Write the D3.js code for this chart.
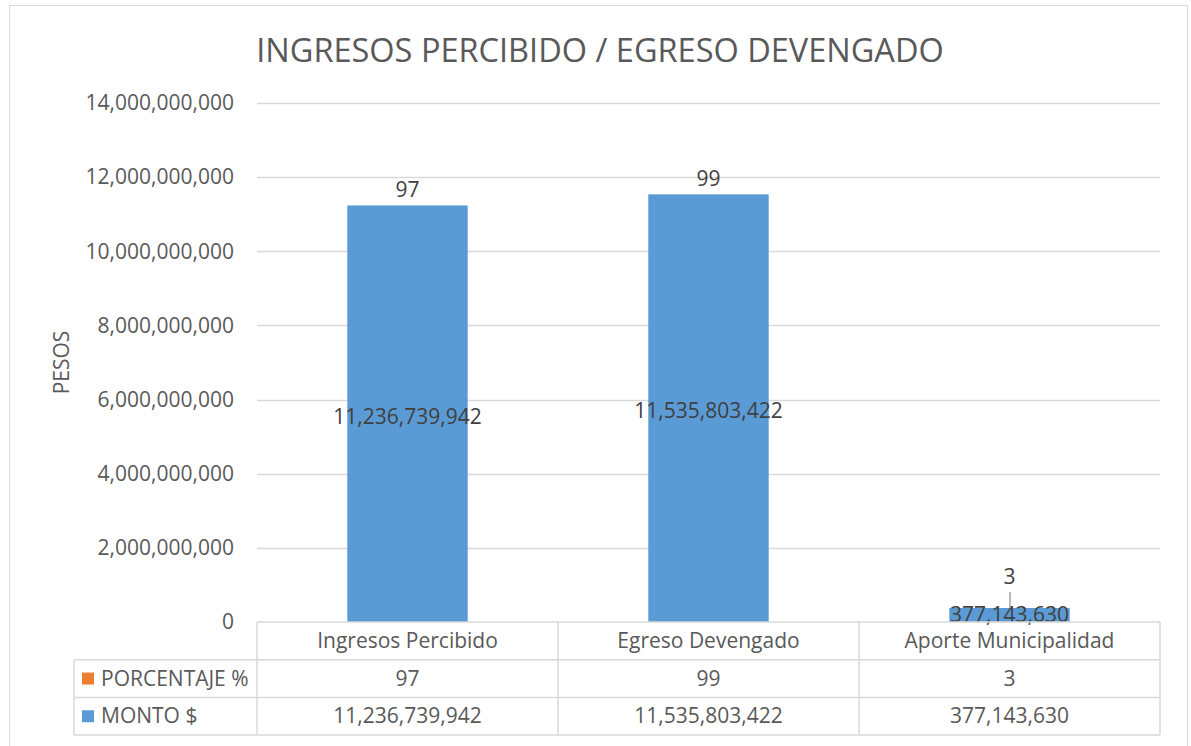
<!DOCTYPE html>
<html>
<head>
<meta charset="utf-8">
<script src="https://cdn.jsdelivr.net/npm/d3@7/dist/d3.min.js"></script>
<style>
  body { margin: 0; background: #fff; }
  text { font-family: "Open Sans", "Liberation Sans", sans-serif; }
</style>
</head>
<body>
<div id="chart"></div>
<script>
// Data
const categories = ["Ingresos Percibido", "Egreso Devengado", "Aporte Municipalidad"];
const montoValues = [11236739942, 11535803422, 377143630];
const porcentajeValues = [97, 99, 3];
const yTicks = [0, 2000000000, 4000000000, 6000000000, 8000000000, 10000000000, 12000000000, 14000000000];
const seriesNames = ["PORCENTAJE %", "MONTO $"];

const width = 1191, height = 746;
const blue = "#5B9BD5", orange = "#ED7D31";
const textColor = "#595959", labelColor = "#404040", gridColor = "#D9D9D9";
const fs = "21px";

const plot = { left: 257, right: 1160, top: 103, bottom: 622 };
const rowH = 37.7;
const tableLeft = 74;

const svg = d3.select("#chart").append("svg")
  .attr("width", width)
  .attr("height", height);

// Outer chart border
svg.append("rect")
  .attr("x", 9.5).attr("y", 5.5)
  .attr("width", 1178).attr("height", 760)
  .attr("fill", "none").attr("stroke", gridColor).attr("stroke-width", 1);

// Scales
const x = d3.scaleBand()
  .domain(categories)
  .range([plot.left, plot.right])
  .paddingInner(0.6)
  .paddingOuter(0.3);

const y = d3.scaleLinear()
  .domain([0, 14000000000])
  .range([plot.bottom, plot.top]);

const fmt = d3.format(",");

// Title
svg.append("text")
  .attr("x", 600).attr("y", 62)
  .attr("text-anchor", "middle")
  .attr("fill", textColor)
  .style("font-size", "32.5px")
  .text("INGRESOS PERCIBIDO / EGRESO DEVENGADO");

// Gridlines
svg.append("g")
  .selectAll("line")
  .data(yTicks.filter(d => d > 0))
  .join("line")
  .attr("x1", plot.left).attr("x2", plot.right)
  .attr("y1", d => Math.round(y(d)) + 0.5).attr("y2", d => Math.round(y(d)) + 0.5)
  .attr("stroke", gridColor).attr("stroke-width", 1.3);

// Y axis
const yAxis = svg.append("g")
  .attr("transform", `translate(${plot.left},0)`)
  .call(d3.axisLeft(y).tickValues(yTicks).tickFormat(fmt).tickSize(0).tickPadding(23));
yAxis.select(".domain").remove();
yAxis.selectAll("text")
  .attr("fill", textColor)
  .style("font-size", fs)
  .style("font-family", "'Open Sans', sans-serif");

// Y axis title
svg.append("text")
  .attr("transform", `translate(69,${(plot.top + plot.bottom) / 2}) rotate(-90)`)
  .attr("text-anchor", "middle")
  .attr("fill", textColor)
  .style("font-size", fs)
  .text("PESOS");

// Stacked bars: MONTO $ at the bottom, PORCENTAJE % on top
const barData = categories.map((c, i) => ({ cat: c, monto: montoValues[i], pct: porcentajeValues[i] }));

svg.append("g")
  .selectAll("rect")
  .data(barData)
  .join("rect")
  .attr("x", d => x(d.cat))
  .attr("width", x.bandwidth())
  .attr("y", d => y(d.monto))
  .attr("height", d => y(0) - y(d.monto))
  .attr("fill", blue);

svg.append("g")
  .selectAll("rect")
  .data(barData)
  .join("rect")
  .attr("x", d => x(d.cat))
  .attr("width", x.bandwidth())
  .attr("y", d => y(d.monto + d.pct))
  .attr("height", d => y(d.monto) - y(d.monto + d.pct))
  .attr("fill", orange);

// MONTO labels (centered in bar)
svg.append("g")
  .selectAll("text")
  .data(barData)
  .join("text")
  .attr("x", d => x(d.cat) + x.bandwidth() / 2)
  .attr("y", d => {
    const mid = (y(d.monto) + y(0)) / 2;
    return mid + 8 - ((y(0) - y(d.monto)) < 30 ? 1 : -2);
  })
  .attr("text-anchor", "middle")
  .attr("fill", labelColor)
  .style("font-size", fs)
  .text(d => fmt(d.monto));

// PORCENTAJE labels (above the stack; short bars get a leader line)
const pctG = svg.append("g");
barData.forEach(d => {
  const cx = x(d.cat) + x.bandwidth() / 2;
  const top = y(d.monto + d.pct);
  const shortBar = (y(0) - y(d.monto)) < 30;
  const ly = shortBar ? top - 24 : top - 8;
  pctG.append("text")
    .attr("x", cx).attr("y", ly)
    .attr("text-anchor", "middle")
    .attr("fill", labelColor)
    .style("font-size", fs)
    .text(d.pct);
  if (shortBar) {
    pctG.append("line")
      .attr("x1", cx + 0.5).attr("x2", cx + 0.5)
      .attr("y1", ly + 8).attr("y2", top)
      .attr("stroke", "#8c8c8c").attr("stroke-width", 1.2);
  }
});

// Data table
const step = x.step();
const colEdges = categories.map((c, i) => plot.left + i * step).concat([plot.right]);
const rows = [plot.bottom, plot.bottom + rowH, plot.bottom + 2 * rowH, plot.bottom + 3 * rowH];
const table = svg.append("g").attr("stroke", gridColor).attr("stroke-width", 1.5);

// horizontal lines
table.append("line").attr("x1", plot.left).attr("x2", plot.right)
  .attr("y1", rows[0]).attr("y2", rows[0]);
rows.slice(1).forEach(r => {
  table.append("line").attr("x1", tableLeft).attr("x2", plot.right)
    .attr("y1", r).attr("y2", r);
});
// vertical lines
colEdges.forEach(cx => {
  table.append("line").attr("x1", cx).attr("x2", cx)
    .attr("y1", rows[0]).attr("y2", rows[3]);
});
table.append("line").attr("x1", tableLeft).attr("x2", tableLeft)
  .attr("y1", rows[1]).attr("y2", rows[3]);

// category header
svg.append("g")
  .selectAll("text")
  .data(categories)
  .join("text")
  .attr("x", d => x(d) + x.bandwidth() / 2)
  .attr("y", rows[0] + rowH / 2 + 7)
  .attr("text-anchor", "middle")
  .attr("fill", textColor)
  .style("font-size", fs)
  .text(d => d);

// series rows
const seriesRows = [
  { name: seriesNames[0], color: orange, values: porcentajeValues.map(v => String(v)) },
  { name: seriesNames[1], color: blue, values: montoValues.map(fmt) }
];
seriesRows.forEach((s, ri) => {
  const top = rows[ri + 1];
  svg.append("rect")
    .attr("x", 82).attr("y", top + rowH / 2 - 6)
    .attr("width", 12).attr("height", 12)
    .attr("fill", s.color);
  svg.append("text")
    .attr("x", 101).attr("y", top + rowH / 2 + 7)
    .attr("fill", textColor)
    .style("font-size", fs)
    .text(s.name);
  svg.append("g")
    .selectAll("text")
    .data(s.values)
    .join("text")
    .attr("x", (d, i) => x(categories[i]) + x.bandwidth() / 2)
    .attr("y", top + rowH / 2 + 7)
    .attr("text-anchor", "middle")
    .attr("fill", textColor)
    .style("font-size", fs)
    .text(d => d);
});
</script>
</body>
</html>
